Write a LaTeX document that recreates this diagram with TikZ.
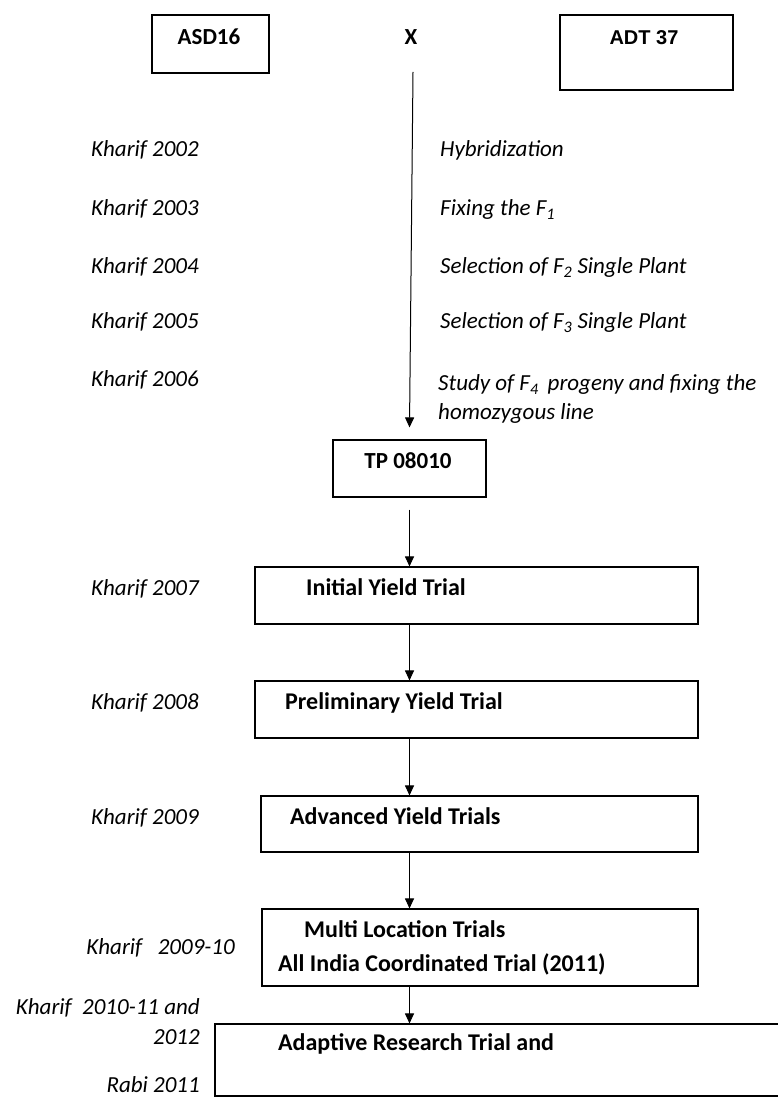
\documentclass[tikz,border=0pt]{standalone}
\usepackage{fontspec}
\setmainfont{Carlito}
\newfontfamily\arialfont{Liberation Sans}
\usetikzlibrary{arrows.meta}
\tikzstyle{flow} = [line width=1pt,-{Triangle[length=10pt,width=9pt]}]
\tikzstyle{stagebox} = [draw, line width=1.1pt, inner sep=0pt]
\tikzstyle{boxtext} = [font=\fontsize{24}{28}\selectfont\bfseries, inner sep=0pt, anchor=mid west, yshift=-5pt]
\tikzstyle{season} = [font=\fontsize{23}{27}\selectfont\itshape, inner sep=0pt, anchor=mid east, yshift=-5pt]
\tikzstyle{work} = [font=\fontsize{23}{27}\selectfont\itshape, inner sep=0pt, anchor=mid west, yshift=-5pt]

\begin{document}
\begin{tikzpicture}[x=1pt,y=-1pt]
	\useasboundingbox[fill=white] (0,0) rectangle (778,1099);
	% parents
	\node[stagebox, minimum width=117pt, minimum height=58pt] (asd) at (210.5,44) {};
	\node[stagebox, minimum width=173pt, minimum height=75pt] (adt) at (646.5,52.5) {};
	\node[boxtext, anchor=mid, font=\fontsize{23}{27}\selectfont\bfseries] (asdtxt) at (209,37) {ASD16};
	\node[boxtext, anchor=mid, font=\fontsize{23}{27}\selectfont\bfseries] (cross) at (411,37) {X};
	\node[boxtext, anchor=mid, font=\fontsize{20}{24}\selectfont\arialfont\bfseries] (adttxt) at (644,37) {ADT 37};
	\coordinate (crossfoot) at (413,72);
	% seasons
	\node[season] (k02) at (199,149) {Kharif 2002};
	\node[season] (k03) at (199,208) {Kharif 2003};
	\node[season] (k04) at (199,266) {Kharif 2004};
	\node[season] (k05) at (199,321) {Kharif 2005};
	\node[season] (k06) at (199,379) {Kharif 2006};
	\node[work] (hyb) at (440,149) {Hybridization};
	\node[work] (fix) at (440,208) {Fixing the F\textsubscript{1}};
	\node[work] (sel2) at (440,266) {Selection of F\textsubscript{2} Single Plant};
	\node[work] (sel3) at (440,321) {Selection of F\textsubscript{3} Single Plant};
	\node[work] (study) at (438,383) {Study of F\textsubscript{4}\, progeny and fixing the};
	\node[work] (homo) at (438,412) {homozygous line};
	% trials
	\node[stagebox, minimum width=153pt, minimum height=57pt] (tp) at (409.5,468.5) {};
	\node[boxtext, anchor=mid, font=\fontsize{23}{27}\selectfont\bfseries] (tptxt) at (408,461) {TP 08010};
	\node[stagebox, minimum width=443pt, minimum height=57pt] (iyt) at (476.5,595.5) {};
	\node[boxtext] (iyttxt) at (306,588) {Initial Yield Trial};
	\node[season] (k07) at (199,588) {Kharif 2007};
	\node[stagebox, minimum width=443pt, minimum height=57pt] (pyt) at (476.5,709.5) {};
	\node[boxtext] (pyttxt) at (285,702) {Preliminary Yield Trial};
	\node[season] (k08) at (199,702) {Kharif 2008};
	\node[stagebox, minimum width=437pt, minimum height=56pt] (ayt) at (479.5,824) {};
	\node[boxtext] (ayttxt) at (290,817) {Advanced Yield Trials};
	\node[season] (k09) at (199,817) {Kharif 2009};
	\node[stagebox, minimum width=436pt, minimum height=77pt] (mlt) at (480,947.5) {};
	\node[boxtext] (mlttxt) at (304,930) {Multi Location Trials};
	\node[boxtext] (aictxt) at (278,964) {All India Coordinated Trial (2011)};
	\node[season] (k0910) at (235,947) {Kharif\ \ \ 2009-10};
	\node[stagebox, minimum width=585pt, minimum height=72pt] (art) at (507.5,1060) {};
	\node[boxtext] (arttxt) at (278,1043) {Adaptive Research Trial and};
	\node[season] (k1011) at (200,1007) {Kharif\ \ 2010-11 and};
	\node[season] (k12) at (200,1037) {2012};
	\node[season] (r11) at (200,1085) {Rabi 2011};
	% arrows
	\draw[flow] (crossfoot) -- ([yshift=12pt]tp.north);
	\draw[flow] ([yshift=-12pt]tp.south) -- (tp.south |- iyt.north);
	\draw[flow] (iyt.south -| tp.south) -- (pyt.north -| tp.south);
	\draw[flow] (pyt.south -| tp.south) -- (ayt.north -| tp.south);
	\draw[flow] (ayt.south -| tp.south) -- (mlt.north -| tp.south);
	\draw[flow] (mlt.south -| tp.south) -- (art.north -| tp.south);
\end{tikzpicture}
\end{document}
